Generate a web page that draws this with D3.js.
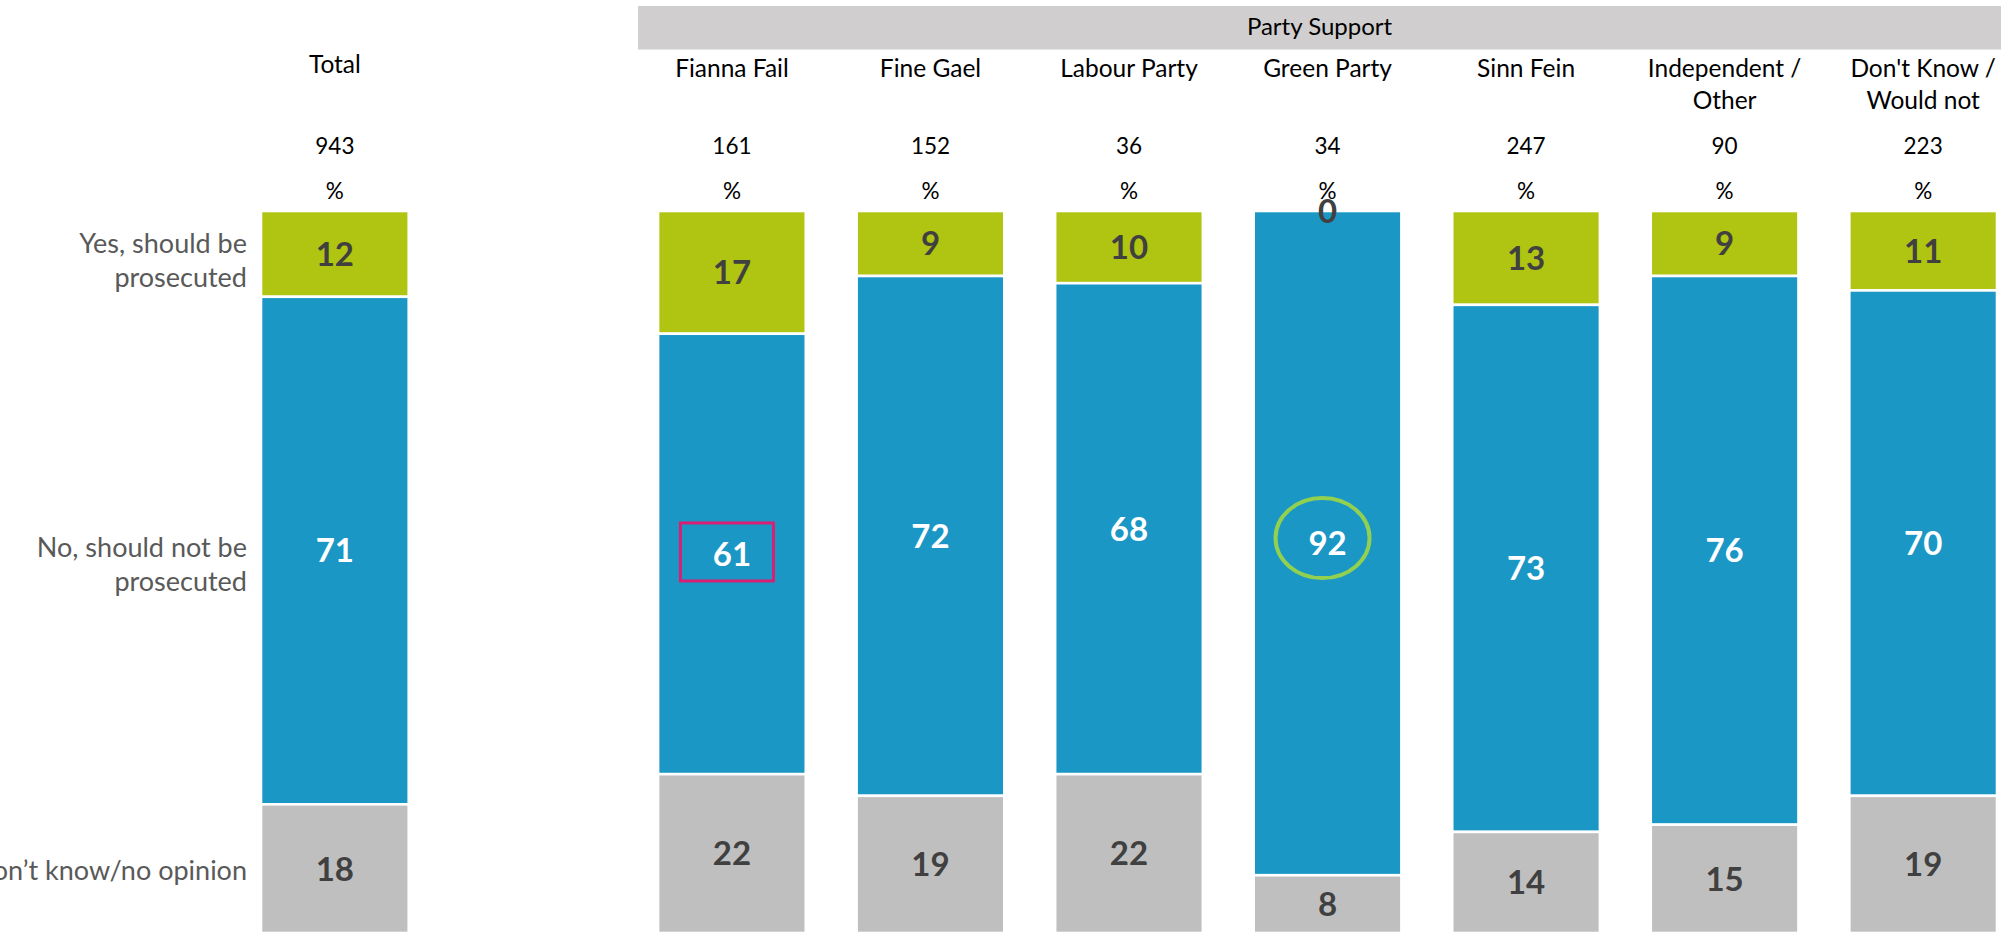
<!DOCTYPE html>
<html>
<head>
<meta charset="utf-8">
<script src="https://cdn.jsdelivr.net/npm/d3@7"></script>
<style>
  html, body { margin: 0; padding: 0; background: #fff; overflow: hidden; }
  svg { display: block; font-family: Lato, "Open Sans", sans-serif; }
</style>
</head>
<body>
<div id="chart"></div>
<script>
// groups along the x axis (header text split into lines)
var groups = ["Total", "Fianna Fail", "Fine Gael", "Labour Party", "Green Party", "Sinn Fein", "Independent / Other", "Don't Know / Would not"];
var groupLines = [["Total"], ["Fianna Fail"], ["Fine Gael"], ["Labour Party"], ["Green Party"], ["Sinn Fein"], ["Independent /", "Other"], ["Don't Know /", "Would not"]];
var baseN = [943, 161, 152, 36, 34, 247, 90, 223];

// answer series
var seriesKeys = ["yes", "no", "dk"];
var seriesLines = [["Yes, should be", "prosecuted"], ["No, should not be", "prosecuted"], ["Don\u2019t know/no opinion"]];
var yesVals = [12, 17, 9, 10, 0, 13, 9, 11];
var noVals = [71, 61, 72, 68, 92, 73, 76, 70];
var dkVals = [18, 22, 19, 22, 8, 14, 15, 19];

var width = 2001, height = 933;
var colors = { yes: "#b0c412", no: "#1b97c6", dk: "#bfbfbf" };
var labelColors = { yes: "#404040", no: "#ffffff", dk: "#404040" };

var rows = groups.map(function (g, i) {
  return { group: g, yes: yesVals[i], no: noVals[i], dk: dkVals[i] };
});

var svg = d3.select("#chart").append("svg")
  .attr("width", width)
  .attr("height", height);

// spacer slot between Total and the party columns
var x = d3.scaleBand()
  .domain([groups[0], "_gap"].concat(groups.slice(1)))
  .range([261, 1997])
  .paddingInner(0.256)
  .paddingOuter(0);

var y = d3.scaleLinear().domain([0, 1]).range([211, 933]);

var stacked = d3.stack().keys(seriesKeys).offset(d3.stackOffsetExpand)(rows);

// Party Support banner
var bandX = x(groups[1]) - 20;
svg.append("rect")
  .attr("x", bandX).attr("y", 6)
  .attr("width", width - bandX).attr("height", 43.5)
  .attr("fill", "#d0cece");
svg.append("text")
  .attr("x", (bandX + width) / 2).attr("y", 35)
  .attr("text-anchor", "middle")
  .attr("font-size", 24)
  .attr("fill", "#000")
  .text("Party Support");

// column headers
var head = svg.append("g").selectAll("g")
  .data(groups)
  .join("g")
  .attr("transform", function (d) { return "translate(" + (x(d) + x.bandwidth() / 2) + ",0)"; });

head.append("text")
  .attr("text-anchor", "middle")
  .attr("font-size", 24.5)
  .attr("fill", "#000")
  .selectAll("tspan")
  .data(function (d, i) { return groupLines[i].map(function (t) { return { t: t, first: i == 0 }; }); })
  .join("tspan")
  .attr("x", 0)
  .attr("y", function (d, j) { return (d.first ? 73 : 77) + j * 32; })
  .text(function (d) { return d.t; });

head.append("text")
  .attr("y", 154)
  .attr("text-anchor", "middle")
  .attr("font-size", 22.5)
  .attr("fill", "#000")
  .text(function (d, i) { return baseN[i]; });

head.append("text")
  .attr("y", 199)
  .attr("text-anchor", "middle")
  .attr("font-size", 22.5)
  .attr("fill", "#000")
  .text("%");

// stacked bars
var layer = svg.append("g").selectAll("g")
  .data(stacked)
  .join("g")
  .attr("fill", function (s) { return colors[s.key]; });

layer.selectAll("rect")
  .data(function (s) { return s; })
  .join("rect")
  .attr("x", function (d) { return x(d.data.group); })
  .attr("y", function (d) { return y(d[0]); })
  .attr("width", x.bandwidth())
  .attr("height", function (d) { return y(d[1]) - y(d[0]); })
  .attr("stroke", "#fff")
  .attr("stroke-width", 2.6);

// data labels
var labels = svg.append("g").selectAll("g")
  .data(stacked)
  .join("g")
  .attr("fill", function (s) { return labelColors[s.key]; });

labels.selectAll("text")
  .data(function (s) { return s.map(function (d) { return { d: d, key: s.key }; }); })
  .join("text")
  .attr("x", function (o) { return x(o.d.data.group) + x.bandwidth() / 2; })
  .attr("y", function (o) { return (y(o.d[0]) + y(o.d[1])) / 2; })
  .attr("dy", "0.36em")
  .attr("text-anchor", "middle")
  .attr("font-size", 33)
  .attr("font-weight", "bold")
  .text(function (o) { return o.d.data[o.key]; });

// series labels on the left, beside the Total bar
var totalCol = stacked.map(function (s) { return s[0]; });
svg.append("g").selectAll("text")
  .data(seriesKeys)
  .join("text")
  .attr("text-anchor", "end")
  .attr("font-size", 27)
  .attr("fill", "#595959")
  .each(function (k, i) {
    var mid = (y(totalCol[i][0]) + y(totalCol[i][1])) / 2;
    var lines = seriesLines[i];
    var start = lines.length > 1 ? mid - 1 : mid + 11;
    d3.select(this).selectAll("tspan")
      .data(lines)
      .join("tspan")
      .attr("x", x(groups[0]) - 14)
      .attr("y", function (t, j) { return start + j * 34 + (i == 1 ? 7 : 0); })
      .text(function (t) { return t; });
  });

// highlight marks on two labels
var ff = stacked[1][1];
var ffX = x(ff.data.group) + x.bandwidth() / 2;
var ffY = (y(ff[0]) + y(ff[1])) / 2;
svg.append("rect")
  .attr("x", ffX - 5 - 46.5).attr("y", ffY - 2 - 29)
  .attr("width", 93).attr("height", 58)
  .attr("fill", "none")
  .attr("stroke", "#d81f73")
  .attr("stroke-width", 3);

var gp = stacked[1][4];
var gpX = x(gp.data.group) + x.bandwidth() / 2;
var gpY = (y(gp[0]) + y(gp[1])) / 2;
svg.append("ellipse")
  .attr("cx", gpX - 5).attr("cy", gpY - 5)
  .attr("rx", 47).attr("ry", 40)
  .attr("fill", "none")
  .attr("stroke", "#92d050")
  .attr("stroke-width", 4);
</script>
</body>
</html>
